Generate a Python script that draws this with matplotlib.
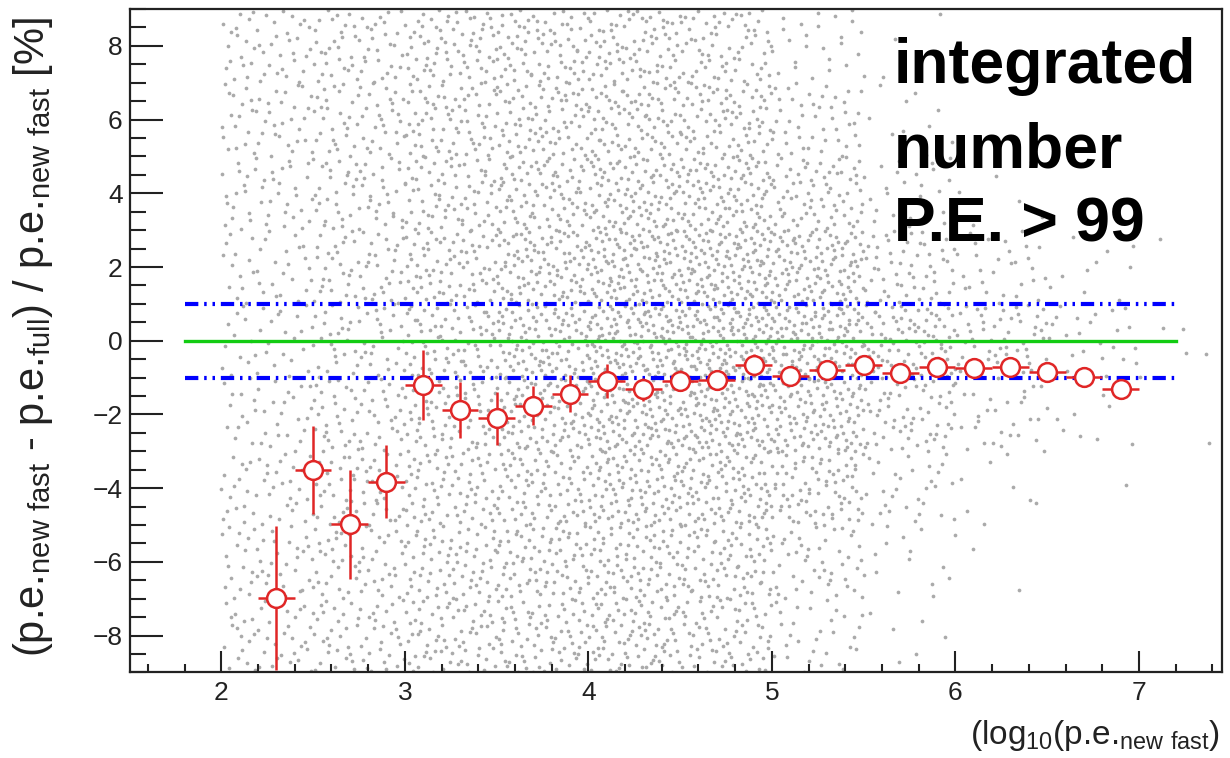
import matplotlib
matplotlib.use("Agg")
import matplotlib.pyplot as plt
import numpy as np
from matplotlib.ticker import MultipleLocator

plt.rcParams['font.family'] = ['Liberation Sans', 'DejaVu Sans']
plt.rcParams['mathtext.default'] = 'regular'

# binned profile (red open circles)
bin_x = [2.3, 2.5, 2.7, 2.9, 3.1, 3.3, 3.5, 3.7, 3.9, 4.1, 4.3, 4.5,
         4.7, 4.9, 5.1, 5.3, 5.5, 5.7, 5.9, 6.1, 6.3, 6.5, 6.7, 6.9]
bin_y = [-6.97, -3.51, -4.98, -3.82, -1.20, -1.88, -2.10, -1.76, -1.44, -1.09, -1.32, -1.08,
         -1.06, -0.66, -0.95, -0.79, -0.66, -0.88, -0.72, -0.73, -0.72, -0.86, -0.98, -1.32]
bin_err = [1.95, 1.20, 1.48, 1.00, 0.95, 0.75, 0.72, 0.53, 0.50, 0.45, 0.32, 0.28,
           0.25, 0.30, 0.22, 0.22, 0.25, 0.20, 0.20, 0.20, 0.25, 0.20, 0.20, 0.20]

# gray scatter cloud: approximate number of events per cell
# columns: x cell left edges (width 0.5), rows: y cell edges top -> bottom (height 2)
cell_x = [2.0, 2.5, 3.0, 3.5, 4.0, 4.5, 5.0, 5.5, 6.0, 6.5, 7.0]
cell_y = [7, 5, 3, 1, -1, -3, -5, -7, -9]
cell_counts = [
    [45, 45, 42, 35, 32, 35, 42, 45, 45],
    [55, 55, 55, 55, 50, 55, 55, 55, 55],
    [70, 70, 70, 75, 75, 70, 70, 70, 70],
    [75, 80, 85, 100, 105, 95, 80, 80, 75],
    [80, 85, 100, 120, 130, 120, 100, 85, 85],
    [65, 80, 100, 125, 140, 125, 100, 80, 70],
    [25, 45, 70, 110, 125, 110, 75, 45, 30],
    [3, 10, 25, 55, 85, 60, 30, 15, 6],
    [0, 0, 6, 30, 55, 30, 8, 2, 0],
    [0, 0, 0, 10, 25, 10, 1, 0, 0],
    [0, 0, 0, 1, 6, 1, 0, 0, 0],
]

label_lines = ["integrated", "number", "P.E. > 99"]

red = '#e02626'


def halton(i, base):
    f, r = 1.0, 0.0
    while i > 0:
        f /= base
        r += f * (i % base)
        i //= base
    return r


fig = plt.figure(figsize=(12.3, 7.58), dpi=100)
ax = fig.add_axes([0.1053, 0.1128, 0.8878, 0.8753])

# spread each cell's count evenly over the cell (Halton placement)
k = 17
px, py = [], []
for i, x0 in enumerate(cell_x):
    for j, y0 in enumerate(cell_y):
        for n in range(cell_counts[i][j]):
            k += 1
            px.append(x0 + 0.5 * halton(k, 2))
            py.append(y0 + 2.0 * halton(k, 3))
ax.plot(px, py, 'o', color='#aaaaaa', ms=2.7, mew=0, zorder=1)

ax.plot([1.8, 7.2], [0, 0], color='#12cc12', lw=2.4, zorder=2)
for yl in [1, -1]:
    ax.plot([1.8, 7.2], [yl, yl], color='#0000ff', lw=3,
            linestyle=(0, (3.2, 1.4, 0.6, 1.4, 0.6, 1.4)), zorder=2)

ax.errorbar(bin_x, bin_y, xerr=0.1, yerr=bin_err, fmt='o', color=red,
            mfc='white', mec=red, ms=13.5, mew=1.8, elinewidth=1.8,
            capsize=0, zorder=5)

ax.set_xlim(1.5, 7.45)
ax.set_ylim(-9, 9)
ax.xaxis.set_major_locator(MultipleLocator(1))
ax.xaxis.set_minor_locator(MultipleLocator(0.2))
ax.yaxis.set_major_locator(MultipleLocator(2))
ax.yaxis.set_minor_locator(MultipleLocator(0.5))
ax.tick_params(direction='in', width=1.5, color='#222222', labelsize=19,
               labelcolor='#222222', top=False, right=False, which='both')
ax.tick_params(axis='y', which='major', length=23.8, pad=5)
ax.tick_params(axis='y', which='minor', length=11.5)
ax.tick_params(axis='x', which='major', length=15, pad=6)
ax.tick_params(axis='x', which='minor', length=5.8)
for s in ax.spines.values():
    s.set_linewidth(1.6)
    s.set_color('#222222')

fig.text(0.027, 0.556,
         r'(p.e.$_{new\ fast}$ - p.e.$_{full}$) / p.e.$_{new\ fast}$ [%]',
         rotation=90, ha='center', va='center', fontsize=30, color='#222222')
fig.text(0.992, 0.018, r'(log$_{10}$(p.e.$_{new\ fast}$)',
         ha='right', va='baseline', fontsize=24, color='#222222')

baselines = [83, 167, 241]
for line, b in zip(label_lines, baselines):
    fig.text(894 / 1230, 1 - b / 758, line, fontsize=45, fontweight='bold',
             ha='left', va='baseline')

fig.savefig('out.png', dpi=100)
